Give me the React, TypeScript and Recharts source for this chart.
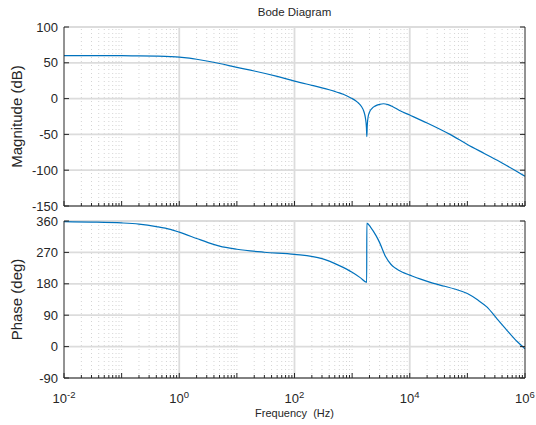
import React from "react";
import { LineChart, Line, XAxis, YAxis, CartesianGrid, ReferenceLine } from "recharts";

// magnitude curve
const FREQ_MAG = [
  0.01, 0.03, 0.1, 0.2, 0.4, 0.7, 1, 1.5, 2, 3, 5, 10, 20, 50, 100, 200, 300, 400, 500, 600,
  700, 800, 900, 1000, 1150, 1300, 1450, 1600, 1700, 1770, 1800, 1830, 1900, 2000, 2200, 2500,
  3000, 3500, 4200, 5000, 6800, 10000, 20000, 50000, 100000, 200000, 400000, 700000, 1000000,
];
const MAG_DB = [
  60, 60, 59.9, 59.7, 59.3, 58.7, 58, 56.5, 55, 52.5, 49, 43.5, 38.5, 31, 24.5, 18.5, 15, 12.3, 10, 8,
  6, 4, 2, 0, -3, -6.5, -11, -18, -27, -40, -53, -38, -25, -19, -14, -10.5,
  -8, -7.2, -8.5, -11, -17, -23, -34, -50, -64, -77, -90, -101, -108.5,
];

// phase curve
const FREQ_PHASE = [
  0.01, 0.03, 0.1, 0.2, 0.4, 0.7, 1, 2, 3.16, 5, 10, 30, 100, 300, 600, 1000, 1400, 1790,
  1800, 2100, 2600, 3000, 3800, 4700, 5600, 7500, 10000, 15000, 25000, 40000, 60000, 100000,
  150000, 220000, 325000, 490000, 730000, 1000000,
];
const PHASE_DEG = [
  358, 357, 354.5, 351, 344, 336, 328, 310, 298, 288, 279, 270.5, 264.5, 252, 232, 213, 197, 184,
  354, 342, 318, 298, 258, 236, 225, 213, 205, 194, 182, 173, 165, 152,
  134, 113, 80, 46, 14.5, -6,
];

const MAG_TICKS = [-150, -100, -50, 0, 50, 100];
const PHASE_TICKS = [-90, 0, 90, 180, 270, 360];
const LABELED_FREQS = [0.01, 1, 100, 10000, 1000000];
const SOLID_FREQS = [1, 100, 10000];
const DECADES = [-2, -1, 0, 1, 2, 3, 4, 5];

const FREQ_TICKS: number[] = [];
DECADES.forEach((e) => {
  for (let m = 1; m <= 9; m++) FREQ_TICKS.push(Number((m * Math.pow(10, e)).toPrecision(6)));
});
FREQ_TICKS.push(1000000);
const DOTTED_FREQS = FREQ_TICKS.filter((f) => !LABELED_FREQS.includes(f));

const magData = FREQ_MAG.map((f, i) => ({ f, v: MAG_DB[i] }));
const phaseData = FREQ_PHASE.map((f, i) => ({ f, v: PHASE_DEG[i] }));

const FONT = '"Liberation Sans", Arial, Helvetica, sans-serif';
const AXIS = "#262626";
const BLUE = "#0072BD";

const isDecade = (v: number) => Math.abs(Math.log10(v) - Math.round(Math.log10(v))) < 1e-6;

function FreqTick(props: any) {
  const { x, y, payload, side, showLabel } = props;
  const v = payload.value;
  const len = isDecade(v) ? 5 : 3;
  const dir = side === "bottom" ? -1 : 1;
  const labeled = showLabel && LABELED_FREQS.some((d) => Math.abs(d - v) / d < 1e-6);
  return (
    <g>
      <line x1={x} x2={x} y1={y} y2={y + dir * len} stroke={AXIS} strokeWidth={1} />
      {labeled && (
        <text x={x} y={y + 25} textAnchor="middle" fontSize={13} fill={AXIS} fontFamily={FONT}>
          10
          <tspan dy={-5} fontSize={9.5}>
            {Math.round(Math.log10(v))}
          </tspan>
        </text>
      )}
    </g>
  );
}

function ValueTick(props: any) {
  const { x, y, payload, side } = props;
  const dir = side === "left" ? 1 : -1;
  return (
    <g>
      <line x1={x} x2={x + dir * 5} y1={y} y2={y} stroke={AXIS} strokeWidth={1} />
      {side === "left" && (
        <text x={x - 6} y={y + 4.5} textAnchor="end" fontSize={13} fill={AXIS} fontFamily={FONT}>
          {payload.value}
        </text>
      )}
    </g>
  );
}

type PanelProps = {
  data: { f: number; v: number }[];
  top: number;
  height: number;
  marginTop: number;
  bottomHeight: number;
  domain: [number, number];
  yTicks: number[];
  showFreqLabels: boolean;
};

function Panel({ data, top, height, marginTop, bottomHeight, domain, yTicks, showFreqLabels }: PanelProps) {
  return (
    <div style={{ position: "absolute", left: 0, top }}>
      <LineChart width={536} height={height} data={data} margin={{ top: marginTop, right: 0, bottom: 0, left: 0 }}>
        <XAxis
          xAxisId="b"
          dataKey="f"
          type="number"
          scale="log"
          domain={[0.01, 1000000]}
          allowDataOverflow
          ticks={FREQ_TICKS}
          interval={0}
          height={bottomHeight}
          tickSize={0}
          tickMargin={0}
          tickLine={false}
          axisLine={{ stroke: AXIS }}
          tick={(p: any) => <FreqTick {...p} side="bottom" showLabel={showFreqLabels} />}
        />
        <XAxis
          xAxisId="t"
          orientation="top"
          dataKey="f"
          type="number"
          scale="log"
          domain={[0.01, 1000000]}
          allowDataOverflow
          ticks={FREQ_TICKS}
          interval={0}
          height={0}
          tickSize={0}
          tickMargin={0}
          tickLine={false}
          axisLine={{ stroke: AXIS }}
          tick={(p: any) => <FreqTick {...p} side="top" showLabel={false} />}
        />
        <YAxis
          yAxisId="l"
          type="number"
          domain={domain}
          allowDataOverflow
          ticks={yTicks}
          interval={0}
          width={64}
          tickSize={0}
          tickMargin={0}
          tickLine={false}
          axisLine={{ stroke: AXIS }}
          tick={(p: any) => <ValueTick {...p} side="left" />}
        />
        <YAxis
          yAxisId="r"
          orientation="right"
          type="number"
          domain={domain}
          allowDataOverflow
          ticks={yTicks}
          interval={0}
          width={11}
          tickSize={0}
          tickMargin={0}
          tickLine={false}
          axisLine={{ stroke: AXIS }}
          tick={(p: any) => <ValueTick {...p} side="right" />}
        />
        <CartesianGrid xAxisId="b" yAxisId="l" vertical={false} stroke="#dcdcdc" strokeWidth={1.8} />
        {DOTTED_FREQS.map((f) => (
          <ReferenceLine key={`d${f}`} xAxisId="b" yAxisId="l" x={f} stroke="#d4d4d4" strokeDasharray="1 3" />
        ))}
        {SOLID_FREQS.map((f) => (
          <ReferenceLine key={`s${f}`} xAxisId="b" yAxisId="l" x={f} stroke="#dcdcdc" strokeWidth={1.8} />
        ))}
        <Line
          xAxisId="b"
          yAxisId="l"
          type="monotone"
          dataKey="v"
          stroke={BLUE}
          strokeWidth={1.2}
          dot={false}
          isAnimationActive={false}
        />
      </LineChart>
    </div>
  );
}

export default function App() {
  return (
    <div style={{ position: "absolute", left: 0, top: 0, width: 536, height: 425, background: "#fff" }}>
      <Panel
        data={magData}
        top={0}
        height={212}
        marginTop={27}
        bottomHeight={6}
        domain={[-150, 100]}
        yTicks={MAG_TICKS}
        showFreqLabels={false}
      />
      <Panel
        data={phaseData}
        top={212}
        height={213}
        marginTop={9}
        bottomHeight={47}
        domain={[-90, 360]}
        yTicks={PHASE_TICKS}
        showFreqLabels={true}
      />
      <svg
        width={536}
        height={425}
        style={{ position: "absolute", left: 0, top: 0, pointerEvents: "none" }}
        fontFamily={FONT}
        fill={AXIS}
      >
        <text x={294.5} y={16} textAnchor="middle" fontSize={11.5}>
          Bode Diagram
        </text>
        <text x={22} y={116.5} textAnchor="middle" fontSize={15} transform="rotate(-90 22 116.5)">
          Magnitude (dB)
        </text>
        <text x={22} y={299.5} textAnchor="middle" fontSize={15} transform="rotate(-90 22 299.5)">
          Phase (deg)
        </text>
        <text x={294.5} y={416.5} textAnchor="middle" fontSize={11} style={{ whiteSpace: "pre" }}>
          Frequency  (Hz)
        </text>
      </svg>
    </div>
  );
}
